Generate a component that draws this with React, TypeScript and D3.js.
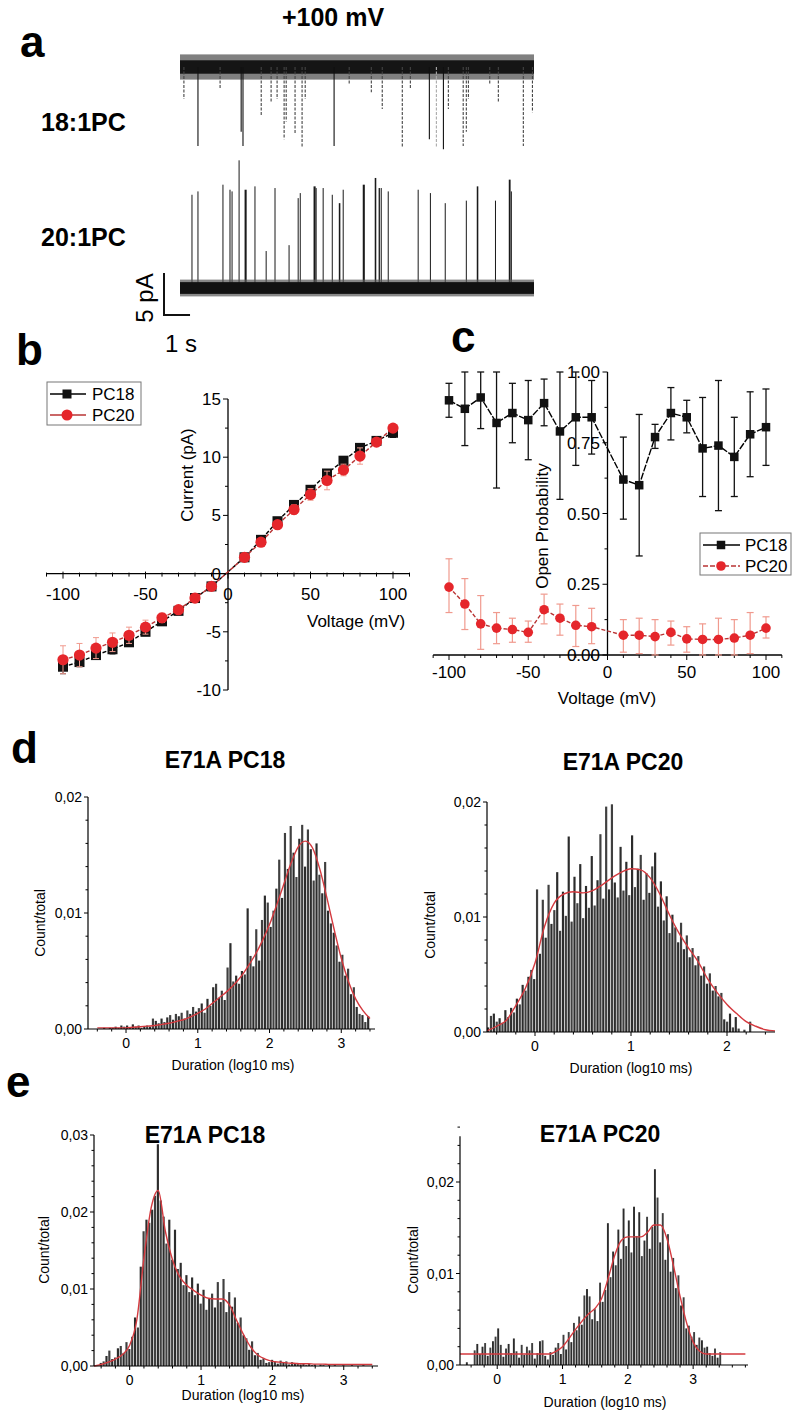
import React from "react";
import * as d3 from "d3";

const FONT = "'Liberation Sans', Arial, Helvetica, sans-serif";

// ---------------- Panel a : single-channel traces at +100 mV ----------------
const traceSeconds = 13.6;
// 18:1PC downward closures: [time s, amplitude pA, faint?]
const pc18Closures: [number, number, number][] = [
  [0.15, 3.8, 1], [0.69, 9.4, 0], [1.54, 2.5, 1], [2.35, 7.7, 0], [2.42, 9.4, 0],
  [3.12, 5.8, 1], [3.5, 4.2, 1], [3.73, 3.8, 1], [4.0, 8.6, 1], [4.08, 6.5, 1],
  [4.42, 8.0, 1], [4.69, 9.5, 1], [4.81, 3.8, 1], [5.92, 9.4, 0], [6.5, 2.0, 1],
  [7.35, 3.0, 1], [7.77, 5.0, 1], [8.54, 9.5, 1], [8.85, 2.5, 1], [9.58, 8.6, 0],
  [9.85, 9.5, 2], [10.12, 9.8, 0], [10.31, 5.0, 1], [10.88, 9.4, 1], [11.0, 7.7, 1],
  [11.08, 3.8, 1], [11.9, 2.0, 1], [12.23, 4.2, 1], [13.19, 9.4, 1], [13.54, 5.4, 1],
];
// 20:1PC upward openings: [time s, amplitude pA, burst duration s]
const pc20Openings: [number, number, number][] = [
  [0.46, 11.1, 0.03], [0.69, 11.5, 0.02], [1.65, 12.3, 0], [1.92, 11.7, 0.04], [2.0, 11.5, 0.03],
  [2.27, 15.2, 0], [2.5, 11.7, 0.08], [2.88, 12.1, 0.02], [3.31, 4.4, 0], [3.65, 11.9, 0.03],
  [4.19, 5.1, 0], [4.54, 10.7, 0], [4.62, 11.3, 0.02], [5.15, 12.1, 0.08], [5.23, 11.9, 0],
  [5.5, 11.9, 0.02], [5.85, 11.1, 0], [6.12, 10.1, 0.06], [6.27, 11.7, 0.02], [7.04, 12.3, 0.08],
  [7.5, 13.1, 0.06], [7.65, 11.9, 0.05], [7.73, 11.9, 0.04], [8.0, 11.5, 0.02], [9.15, 11.7, 0],
  [9.62, 11.3, 0], [10.19, 10.1, 0], [11.0, 10.4, 0], [11.42, 12.1, 0.06], [12.12, 10.4, 0],
  [12.65, 12.9, 0.07], [12.73, 11.5, 0],
];
const noisePC18 = { core: 0.8, fuzz: 1.5 };
const noisePC20 = { core: 0.7, fuzz: 1.0 };

// ---------------- Panel b : I-V ----------------
const ivVoltage = [-100, -90, -80, -70, -60, -50, -40, -30, -20, -10, 10, 20, 30, 40, 50, 60, 70, 80, 90, 100];
const ivPC18 = [-8.0, -7.6, -7.0, -6.5, -5.9, -5.0, -4.1, -3.2, -2.1, -1.1, 1.4, 2.9, 4.5, 5.9, 7.2, 8.6, 9.7, 10.8, 11.4, 12.1];
const ivPC18Err = [0.6, 0.4, 0.3, 0.4, 0.3, 0.2, 0.2, 0.2, 0.1, 0.1, 0.1, 0.1, 0.2, 0.2, 0.2, 0.2, 0.2, 0.2, 0.2, 0.4];
const ivPC20 = [-7.4, -7.0, -6.4, -5.9, -5.3, -4.6, -3.8, -3.1, -2.1, -1.1, 1.4, 2.7, 4.2, 5.5, 6.8, 8.0, 8.9, 10.1, 11.3, 12.5];
const ivPC20Err = [1.2, 1.0, 0.9, 0.8, 0.7, 0.6, 0.4, 0.2, 0.1, 0.1, 0.1, 0.2, 0.3, 0.4, 0.5, 0.8, 0.5, 0.7, 0.2, 0.3];

// ---------------- Panel c : open probability ----------------
const opVoltage = ivVoltage;
const opPC18 = [0.9, 0.87, 0.91, 0.82, 0.855, 0.83, 0.89, 0.79, 0.84, 0.84, 0.62, 0.6, 0.77, 0.855, 0.84, 0.73, 0.74, 0.7, 0.78, 0.805];
const opPC18Lo = [0.84, 0.74, 0.8, 0.59, 0.75, 0.69, 0.81, 0.55, 0.67, 0.71, 0.48, 0.35, 0.73, 0.76, 0.785, 0.56, 0.51, 0.56, 0.63, 0.67];
const opPC18Hi = [0.96, 1.0, 1.0, 1.0, 0.96, 0.97, 0.975, 1.0, 1.0, 0.97, 0.77, 0.85, 0.815, 0.945, 0.9, 0.91, 0.97, 0.84, 0.93, 0.94];
const opPC20 = [0.24, 0.18, 0.11, 0.095, 0.09, 0.08, 0.16, 0.13, 0.105, 0.1, 0.07, 0.07, 0.065, 0.08, 0.057, 0.055, 0.055, 0.06, 0.07, 0.095];
const opPC20Lo = [0.15, 0.09, 0.02, 0.04, 0.045, 0.045, 0.11, 0.07, 0.03, 0.04, 0.01, 0.005, 0.0, 0.035, 0.01, 0.0, 0.0, 0.0, 0.005, 0.06];
const opPC20Hi = [0.34, 0.27, 0.21, 0.15, 0.13, 0.12, 0.215, 0.18, 0.175, 0.165, 0.125, 0.13, 0.125, 0.12, 0.1, 0.11, 0.13, 0.125, 0.15, 0.135];

// ---------------- Panels d/e : dwell-time histograms (per-mille of total) ----------------
const dPC18Start = -0.4, dPC18Bin = 0.04;
const dPC18Counts = [
  0, 0, 0.1, 0, 0.1, 0.1, 0.2, 0.1, 0.3, 0.2, 0.3, 0.1, 0.4, 0.2, 0.3, 0.1, 0.2, 0.3, 0.2, 0.9,
  0.7, 0.5, 0.9, 0.6, 1.0, 1.2, 0.8, 1.3, 1.1, 1.4, 0.9, 1.6, 1.3, 1.9, 1.5, 1.8, 2.2, 1.4, 2.6, 2.0,
  3.6, 3.9, 2.7, 3.3, 2.5, 5.3, 7.4, 4.1, 4.6, 3.9, 5.0, 4.7, 10.4, 6.3, 5.4, 8.6, 5.9, 9.4, 11.5, 10.9,
  8.8, 10.2, 12.1, 14.6, 11.3, 16.9, 13.8, 17.5, 15.2, 13.1, 16.4, 17.6, 14.0, 17.2, 15.5, 12.8, 16.0, 13.3, 11.7, 14.4,
  10.2, 9.1, 8.3, 7.2, 5.8, 6.4, 4.6, 5.2, 3.0, 3.6, 1.9, 1.3, 1.2, 0.6, 1.1,
];
const dPC18FitStart = -0.4, dPC18FitStep = 0.1;
const dPC18Fit = [
  0.1, 0.1, 0.1, 0.1, 0.1, 0.15, 0.2, 0.25, 0.3, 0.4, 0.5, 0.65, 0.8, 1.05, 1.35, 1.7, 2.2, 2.7, 3.2, 3.8,
  4.5, 5.4, 6.4, 7.6, 9.0, 10.7, 12.5, 14.3, 15.7, 16.2, 15.6, 13.8, 11.3, 8.6, 6.1, 4.1, 2.6, 1.6, 0.9,
];

const dPC20Start = -0.5, dPC20Bin = 0.03;
const dPC20Counts = [
  0.4, 1.4, 1.6, 0.9, 1.2, 0.8, 1.9, 1.3, 2.1, 1.7, 2.9, 2.4, 4.1, 3.6, 4.8, 5.4, 4.6, 12.4, 6.8, 11.5,
  8.2, 12.8, 9.4, 10.6, 13.9, 8.8, 12.2, 10.1, 17.0, 9.6, 13.5, 11.2, 14.6, 9.9, 12.7, 10.8, 15.3, 11.0, 13.2, 17.2,
  11.6, 19.6, 12.4, 19.8, 13.0, 11.7, 16.1, 12.3, 14.8, 11.9, 17.1, 12.6, 14.2, 15.4, 11.5, 13.8, 12.1, 14.4, 15.6, 10.9,
  13.1, 9.7, 11.8, 8.6, 10.2, 9.1, 7.8, 9.5, 7.2, 8.4, 6.5, 7.3, 5.8, 6.6, 4.9, 5.7, 4.2, 5.1, 3.6, 4.0,
  3.1, 3.4, 1.1, 0.9, 1.6, 0.4, 1.3, 0.3, 0, 0.2, 0, 0.9, 0, 0, 0, 0, 0, 0, 0, 0,
];
const dPC20FitStart = -0.5, dPC20FitStep = 0.1;
const dPC20Fit = [
  0.1, 0.5, 1.0, 2.3, 3.8, 6.0, 9.2, 11.2, 12.0, 12.2, 12.1, 12.3, 12.8, 13.4, 13.9, 14.2, 14.1, 13.4, 12.0, 10.2,
  8.6, 7.3, 6.1, 4.6, 3.4, 2.4, 1.6, 0.9, 0.5, 0.2, 0.1,
];

const ePC18Start = -0.5, ePC18Bin = 0.04;
const ePC18Counts = [
  0, 0, 0.4, 0.6, 1.3, 2.0, 0.9, 1.1, 2.3, 2.6, 1.7, 3.1, 2.2, 3.8, 6.3, 5.0, 12.9, 17.5, 19.0, 18.6,
  20.3, 22.1, 28.8, 21.5, 19.4, 15.9, 19.0, 13.8, 17.7, 12.6, 13.4, 10.5, 11.8, 9.6, 11.5, 9.2, 10.7, 8.1, 9.9, 7.3,
  8.8, 9.4, 7.6, 10.9, 8.3, 11.3, 7.0, 9.6, 7.7, 8.9, 5.6, 6.3, 4.0, 3.6, 2.1, 3.2, 1.4, 1.7, 0.8, 1.0,
  0.4, 0.5, 0.8, 0.6, 0.3, 0.7, 0.4, 0.6, 0.2, 0.5, 0.3, 0.4, 0.2, 0.3, 0.1, 0.3, 0.1, 0.2, 0, 0.2,
  0.1, 0, 0.1, 0, 0.1, 0, 0, 0.1, 0, 0, 0.1, 0, 0, 0, 0.1, 0, 0, 0, 0,
];
const ePC18FitStart = -0.5, ePC18FitStep = 0.1;
const ePC18Fit = [
  0.0, 0.2, 0.5, 0.9, 1.5, 2.7, 6.0, 14.0, 20.5, 22.8, 17.5, 13.8, 11.6, 10.5, 9.8, 9.2, 8.8, 8.7, 8.7, 7.9,
  5.9, 4.0, 2.4, 1.4, 0.9, 0.6, 0.5, 0.4, 0.35, 0.3, 0.3, 0.25, 0.25, 0.2, 0.2, 0.2, 0.2, 0.2, 0.2, 0.2,
];

const ePC20Start = -0.56, ePC20Bin = 0.04;
const ePC20Counts = [
  0, 0, 0.3, 0, 0, 1.6, 2.3, 1.2, 2.0, 2.4, 1.0, 1.9, 2.6, 3.1, 4.0, 2.2, 0.9, 1.8, 2.3, 1.3,
  2.9, 1.5, 0.8, 2.2, 1.1, 2.0, 1.6, 2.4, 0.7, 1.3, 2.6, 2.7, 1.0, 0.6, 1.4, 1.1, 1.9, 2.4, 1.2, 3.3,
  1.7, 3.6, 2.5, 4.6, 3.8, 5.3, 4.4, 7.6, 8.3, 7.5, 5.0, 6.1, 4.8, 9.0, 6.9, 8.2, 15.5, 9.6, 12.4, 10.9,
  14.8, 11.6, 17.1, 13.0, 15.8, 12.3, 17.3, 14.1, 16.7, 11.9, 13.6, 16.2, 12.7, 15.1, 21.4, 18.3, 13.4, 16.6, 11.5, 14.3,
  10.2, 11.7, 8.4, 9.8, 6.5, 7.4, 4.0, 4.3, 3.1, 3.6, 2.2, 3.0, 2.7, 1.9, 2.0, 1.3, 1.0, 1.8, 0.8, 1.4,
];
const ePC20FitStart = -0.6, ePC20FitStep = 0.1;
const ePC20Fit = [
  1.2, 1.2, 1.2, 1.2, 1.2, 1.2, 1.2, 1.2, 1.2, 1.2, 1.2, 1.2, 1.2, 1.2, 1.2,
  1.5, 2.0, 2.9, 3.9, 4.8, 5.6, 6.2, 7.3, 9.5, 12.0, 13.6, 14.0, 14.0, 14.0, 14.5, 15.3, 15.3, 13.8, 10.8, 7.5, 4.6, 2.5, 1.5, 1.2,
  1.2, 1.2, 1.2, 1.2, 1.2, 1.2,
];

// ---------------- helpers ----------------
const RED = "#e5262b";
const RED_LINE = "#b93434";
const RED_ERR = "#f09a8e";

function steps(a: number, b: number, s: number) {
  const out: number[] = [];
  const n = Math.round((b - a) / s);
  for (let i = 0; i <= n; i++) out.push(+(a + i * s).toFixed(6));
  return out;
}

function PanelA() {
  const t = d3.scaleLinear().domain([0, traceSeconds]).range([180, 534]);
  const y1 = d3.scaleLinear().domain([-10, 0]).range([151, 67]);
  const y2 = d3.scaleLinear().domain([0, 10]).range([288, 204]);
  const barX = 164, barY = 315;
  const barH = y2(0) - y2(5);
  const barW = t(1) - t(0);
  return (
    <g>
      <text x={333} y={26} textAnchor="middle" fontSize={25} fontWeight="bold">+100 mV</text>
      <text x={41} y={131} fontSize={25} fontWeight="bold">18:1PC</text>
      <text x={41} y={246} fontSize={25} fontWeight="bold">20:1PC</text>
      {/* top trace noise band */}
      <rect x={t(0)} width={t(traceSeconds) - t(0)} y={y1(noisePC18.fuzz)} height={y1(-noisePC18.fuzz) - y1(noisePC18.fuzz)} fill="#555" opacity={0.75} />
      <rect x={t(0)} width={t(traceSeconds) - t(0)} y={y1(noisePC18.core)} height={y1(-noisePC18.core) - y1(noisePC18.core)} fill="#151515" />
      {pc18Closures.map(([tt, a, k], i) => (
        <line key={i} x1={t(tt)} x2={t(tt)} y1={y1(0)} y2={y1(-a)}
          stroke={k === 2 ? "#aaa" : k === 1 ? "#444" : "#111"} strokeWidth={1.1}
          strokeDasharray={k === 0 ? undefined : "3,1.5"} />
      ))}
      {/* bottom trace */}
      {pc20Openings.map(([tt, a, dur], i) => (
        <rect key={i} x={t(tt) - 0.5} width={Math.max(1, t(tt + dur) - t(tt))} y={y2(a)} height={y2(0) - y2(a)} fill="#1a1a1a" />
      ))}
      <rect x={t(0)} width={t(traceSeconds) - t(0)} y={y2(noisePC20.fuzz)} height={y2(-noisePC20.fuzz) - y2(noisePC20.fuzz)} fill="#555" opacity={0.7} />
      <rect x={t(0)} width={t(traceSeconds) - t(0)} y={y2(noisePC20.core)} height={y2(-noisePC20.core) - y2(noisePC20.core)} fill="#111" />
      {/* scale bar */}
      <path d={`M${barX},${barY - barH}V${barY}H${barX + barW}`} fill="none" stroke="#111" strokeWidth={2} />
      <text transform={`translate(153,${barY - barH / 2 + 4}) rotate(-90)`} textAnchor="middle" fontSize={24}>5 pA</text>
      <text x={165} y={352} fontSize={24}>1 s</text>
    </g>
  );
}

function Square({ x, y, s, fill }: { x: number; y: number; s: number; fill: string }) {
  return <rect x={x - s / 2} y={y - s / 2} width={s} height={s} fill={fill} />;
}

function PanelB() {
  const x = d3.scaleLinear().domain([-100, 100]).range([63, 393]);
  const y = d3.scaleLinear().domain([-10, 15]).range([690, 399]);
  const x0 = x(0), y0 = y(0);
  const line = d3.line<number>().x((_, i) => x(ivVoltage[i])).y((v) => y(v));
  const xt = steps(-110, 110, 10);
  const yt = steps(-10, 15, 2.5);
  return (
    <g fontSize={17}>
      <line x1={x(-110)} x2={x(110)} y1={y0} y2={y0} stroke="#000" strokeWidth={1.3} />
      {xt.map((v) => (
        <line key={v} x1={x(v)} x2={x(v)} y1={y0 - (v % 50 === 0 ? 2 : 1)} y2={y0 + (v % 50 === 0 ? 5 : 3)} stroke="#000" strokeWidth={1} />
      ))}
      {[-100, -50, 0, 50, 100].map((v) => (
        <text key={v} x={x(v)} y={600} textAnchor="middle">{v}</text>
      ))}
      <line x1={x0} x2={x0} y1={y(-10)} y2={y(15)} stroke="#000" strokeWidth={1.3} />
      {yt.map((v) => (
        <line key={v} x1={x0 - (v % 5 === 0 ? 5 : 3)} x2={x0} y1={y(v)} y2={y(v)} stroke="#000" strokeWidth={1} />
      ))}
      {[15, 10, 5, 0, -5, -10].map((v) => (
        <text key={v} x={221} y={y(v) + 6} textAnchor="end">{v}</text>
      ))}
      <text x={307} y={627}>Voltage (mV)</text>
      <text transform={`translate(193,475) rotate(-90)`} textAnchor="middle">Current (pA)</text>
      {/* PC18 */}
      <path d={line(ivPC18) || ""} fill="none" stroke="#000" strokeWidth={1.4} strokeDasharray="4,2" />
      {ivPC18.map((v, i) => (
        <g key={i}>
          <line x1={x(ivVoltage[i])} x2={x(ivVoltage[i])} y1={y(v - ivPC18Err[i])} y2={y(v + ivPC18Err[i])} stroke="#000" strokeWidth={1} />
          <line x1={x(ivVoltage[i]) - 3} x2={x(ivVoltage[i]) + 3} y1={y(v - ivPC18Err[i])} y2={y(v - ivPC18Err[i])} stroke="#000" />
          <Square x={x(ivVoltage[i])} y={y(v)} s={10} fill="#111" />
        </g>
      ))}
      {/* PC20 */}
      <path d={line(ivPC20) || ""} fill="none" stroke={RED_LINE} strokeWidth={1.4} strokeDasharray="4,2" />
      {ivPC20.map((v, i) => (
        <g key={i}>
          <line x1={x(ivVoltage[i])} x2={x(ivVoltage[i])} y1={y(v - ivPC20Err[i])} y2={y(v + ivPC20Err[i])} stroke={RED_ERR} strokeWidth={1} />
          <line x1={x(ivVoltage[i]) - 3} x2={x(ivVoltage[i]) + 3} y1={y(v + ivPC20Err[i])} y2={y(v + ivPC20Err[i])} stroke={RED_ERR} />
          <line x1={x(ivVoltage[i]) - 3} x2={x(ivVoltage[i]) + 3} y1={y(v - ivPC20Err[i])} y2={y(v - ivPC20Err[i])} stroke={RED_ERR} />
          <circle cx={x(ivVoltage[i])} cy={y(v)} r={5.6} fill={RED} />
        </g>
      ))}
      {/* legend */}
      <rect x={47} y={382} width={94} height={43} fill="#fff" stroke="#777" strokeWidth={1} />
      <line x1={50} x2={86} y1={394} y2={394} stroke="#000" strokeWidth={1.4} />
      <Square x={67} y={394} s={9} fill="#111" />
      <text x={92} y={400}>PC18</text>
      <line x1={50} x2={86} y1={415} y2={415} stroke={RED_LINE} strokeWidth={1.4} />
      <circle cx={67} cy={415} r={5.5} fill={RED} />
      <text x={92} y={421}>PC20</text>
    </g>
  );
}

function PanelC() {
  const x = d3.scaleLinear().domain([-100, 100]).range([449, 766]);
  const y = d3.scaleLinear().domain([0, 1]).range([655, 372]);
  const x0 = x(0), y0 = y(0);
  const line = d3.line<number>().x((_, i) => x(opVoltage[i])).y((v) => y(v));
  const xt = steps(-110, 110, 10);
  const yt = steps(0, 1, 0.125);
  return (
    <g fontSize={17}>
      <line x1={x(-110)} x2={x(110)} y1={y0} y2={y0} stroke="#000" strokeWidth={1.3} />
      {xt.map((v) => (
        <line key={v} x1={x(v)} x2={x(v)} y1={y0} y2={y0 + (v % 50 === 0 ? 5 : 3)} stroke="#000" strokeWidth={1} />
      ))}
      {[-100, -50, 0, 50, 100].map((v) => (
        <text key={v} x={x(v)} y={678} textAnchor="middle">{v}</text>
      ))}
      <line x1={x0} x2={x0} y1={y(0)} y2={y(1)} stroke="#000" strokeWidth={1.3} />
      {yt.map((v) => (
        <line key={v} x1={x0 - (Math.abs(v * 4 - Math.round(v * 4)) < 1e-6 ? 5 : 3)} x2={x0} y1={y(v)} y2={y(v)} stroke="#000" strokeWidth={1} />
      ))}
      {[1, 0.75, 0.5, 0.25, 0].map((v) => (
        <text key={v} x={600} y={y(v) + 6} textAnchor="end">{v.toFixed(2)}</text>
      ))}
      <text x={607} y={704} textAnchor="middle">Voltage (mV)</text>
      <text transform={`translate(548,526) rotate(-90)`} textAnchor="middle">Open Probability</text>
      {/* PC18 */}
      <path d={line(opPC18) || ""} fill="none" stroke="#000" strokeWidth={1.4} strokeDasharray="7,1.5" />
      {opPC18.map((v, i) => {
        const xv = x(opVoltage[i]);
        return (
          <g key={i}>
            <line x1={xv} x2={xv} y1={y(opPC18Lo[i])} y2={y(opPC18Hi[i])} stroke="#111" strokeWidth={1.3} />
            <line x1={xv - 3.5} x2={xv + 3.5} y1={y(opPC18Lo[i])} y2={y(opPC18Lo[i])} stroke="#111" strokeWidth={1.3} />
            <line x1={xv - 3.5} x2={xv + 3.5} y1={y(opPC18Hi[i])} y2={y(opPC18Hi[i])} stroke="#111" strokeWidth={1.3} />
            <Square x={xv} y={y(v)} s={8.5} fill="#111" />
          </g>
        );
      })}
      {/* PC20 */}
      <path d={line(opPC20) || ""} fill="none" stroke={RED_LINE} strokeWidth={1.4} strokeDasharray="4,2" />
      {opPC20.map((v, i) => {
        const xv = x(opVoltage[i]);
        return (
          <g key={i}>
            <line x1={xv} x2={xv} y1={y(opPC20Lo[i])} y2={y(opPC20Hi[i])} stroke={RED_ERR} strokeWidth={1.2} />
            <line x1={xv - 3.5} x2={xv + 3.5} y1={y(opPC20Lo[i])} y2={y(opPC20Lo[i])} stroke={RED_ERR} strokeWidth={1.2} />
            <line x1={xv - 3.5} x2={xv + 3.5} y1={y(opPC20Hi[i])} y2={y(opPC20Hi[i])} stroke={RED_ERR} strokeWidth={1.2} />
            <circle cx={xv} cy={y(v)} r={4.8} fill={RED} />
          </g>
        );
      })}
      {/* legend */}
      <rect x={700} y={533} width={91} height={42} fill="#fff" stroke="#777" strokeWidth={1} />
      <line x1={703} x2={740} y1={545} y2={545} stroke="#000" strokeWidth={1.4} />
      <Square x={721} y={545} s={8.5} fill="#111" />
      <text x={745} y={551}>PC18</text>
      <line x1={703} x2={740} y1={566} y2={566} stroke={RED_LINE} strokeWidth={1.4} strokeDasharray="5,2" />
      <circle cx={721} cy={566} r={4.8} fill={RED} />
      <text x={745} y={572}>PC20</text>
    </g>
  );
}

type HistProps = {
  id: string;
  counts: number[]; binStart: number; binW: number;
  fit: number[]; fitStart: number; fitStep: number;
  xDomain: [number, number]; xRange: [number, number];
  yLabelTop: number; yRange: [number, number]; axisTop: number;
  title: string; titleX: number; titleY: number;
  xTitleX: number; xTitleY: number; yTitleX: number; yTitleY: number;
};

function Histogram(p: HistProps) {
  const xs = d3.scaleLinear().domain(p.xDomain).range(p.xRange);
  const ys = d3.scaleLinear().domain([0, p.yLabelTop]).range(p.yRange);
  const y0 = ys(0);
  const ax = p.xRange[0];
  const fitLine = d3.line<number>()
    .x((_, i) => xs(p.fitStart + i * p.fitStep))
    .y((v) => ys(v))
    .curve(d3.curveMonotoneX);
  const fmt = (v: number) => (v / 1000).toFixed(2).replace(".", ",");
  const yMinor = steps(0, p.axisTop, 2);
  const yMajor = steps(0, p.yLabelTop, 10);
  const xMinorAll = steps(Math.ceil(p.xDomain[0] * 5) / 5, Math.floor(p.xDomain[1] * 5) / 5, 0.2);
  const xMajor = steps(Math.ceil(p.xDomain[0]), Math.floor(p.xDomain[1]), 1);
  return (
    <g>
      <defs>
        <clipPath id={p.id}>
          <rect x={p.xRange[0]} y={0} width={p.xRange[1] - p.xRange[0]} height={1422} />
        </clipPath>
      </defs>
      <text x={p.titleX} y={p.titleY} textAnchor="middle" fontSize={23} fontWeight="bold">{p.title}</text>
      {p.counts.map((v, i) => {
        const a = p.binStart + i * p.binW;
        const xa = xs(a), xb = xs(a + p.binW);
        return v > 0 ? (
          <rect key={i} x={xa} width={Math.max(0.5, xb - xa - 0.7)} y={ys(v)} height={y0 - ys(v)} fill={i % 2 ? "#404040" : "#2c2c2c"} />
        ) : null;
      })}
      <path d={fitLine(p.fit) || ""} fill="none" stroke="#d43a3f" strokeWidth={1.4} clipPath={`url(#${p.id})`} />
      {/* axes */}
      <line x1={ax} x2={ax} y1={y0} y2={ys(p.axisTop)} stroke="#000" strokeWidth={1.2} />
      {yMinor.map((v) => (
        <line key={"ym" + v} x1={ax - (v % 10 === 0 ? 4 : 2.5)} x2={ax} y1={ys(v)} y2={ys(v)} stroke="#000" strokeWidth={1} />
      ))}
      {yMajor.map((v) => (
        <text key={"yl" + v} x={ax - 6} y={ys(v) + 5} textAnchor="end" fontSize={14}>{fmt(v)}</text>
      ))}
      <line x1={p.xRange[0]} x2={p.xRange[1]} y1={y0} y2={y0} stroke="#000" strokeWidth={1.2} />
      {xMinorAll.map((v) => (
        <line key={"xm" + v} x1={xs(v)} x2={xs(v)} y1={y0} y2={y0 + (Math.abs(v - Math.round(v)) < 1e-6 ? 4 : 2.5)} stroke="#000" strokeWidth={1} />
      ))}
      {xMajor.map((v) => (
        <text key={"xl" + v} x={xs(v)} y={y0 + 19} textAnchor="middle" fontSize={14}>{v}</text>
      ))}
      <text x={p.xTitleX} y={p.xTitleY} textAnchor="middle" fontSize={14}>Duration (log10 ms)</text>
      <text transform={`translate(${p.yTitleX},${p.yTitleY}) rotate(-90)`} textAnchor="middle" fontSize={14}>Count/total</text>
    </g>
  );
}

export default function App() {
  return (
    <svg width={800} height={1422} viewBox="0 0 800 1422" fontFamily={FONT}
      style={{ position: "absolute", left: 0, top: 0, background: "#fff" }}>
      <rect width={800} height={1422} fill="#fff" />
      <PanelA />
      <PanelB />
      <PanelC />
      <Histogram id="cd1" counts={dPC18Counts} binStart={dPC18Start} binW={dPC18Bin}
        fit={dPC18Fit} fitStart={dPC18FitStart} fitStep={dPC18FitStep}
        xDomain={[-0.53, 3.47]} xRange={[88, 375]} yLabelTop={20} yRange={[1029, 797]} axisTop={20}
        title="E71A PC18" titleX={225} titleY={768} xTitleX={233} xTitleY={1070} yTitleX={45} yTitleY={923} />
      <Histogram id="cd2" counts={dPC20Counts} binStart={dPC20Start} binW={dPC20Bin}
        fit={dPC20Fit} fitStart={dPC20FitStart} fitStep={dPC20FitStep}
        xDomain={[-0.5, 2.5]} xRange={[487, 775]} yLabelTop={20} yRange={[1032, 802]} axisTop={20}
        title="E71A PC20" titleX={623} titleY={770} xTitleX={631} xTitleY={1073} yTitleX={435} yTitleY={925} />
      <Histogram id="ce1" counts={ePC18Counts} binStart={ePC18Start} binW={ePC18Bin}
        fit={ePC18Fit} fitStart={ePC18FitStart} fitStep={ePC18FitStep}
        xDomain={[-0.5, 3.48]} xRange={[94, 378]} yLabelTop={30} yRange={[1366, 1135]} axisTop={30}
        title="E71A PC18" titleX={205} titleY={1143} xTitleX={243} xTitleY={1400} yTitleX={49} yTitleY={1250} />
      <Histogram id="ce2" counts={ePC20Counts} binStart={ePC20Start} binW={ePC20Bin}
        fit={ePC20Fit} fitStart={ePC20FitStart} fitStep={ePC20FitStep}
        xDomain={[-0.57, 3.84]} xRange={[460, 748]} yLabelTop={20} yRange={[1365, 1182]} axisTop={25}
        title="E71A PC20" titleX={600} titleY={1142} xTitleX={605} xTitleY={1407} yTitleX={418} yTitleY={1260} />
      {/* panel letters */}
      <g fontSize={44} fontWeight="bold">
        <text x={20} y={57}>a</text>
        <text x={16} y={365}>b</text>
        <text x={451} y={352}>c</text>
        <text x={11} y={763}>d</text>
        <text x={6} y={1097}>e</text>
      </g>
    </svg>
  );
}
